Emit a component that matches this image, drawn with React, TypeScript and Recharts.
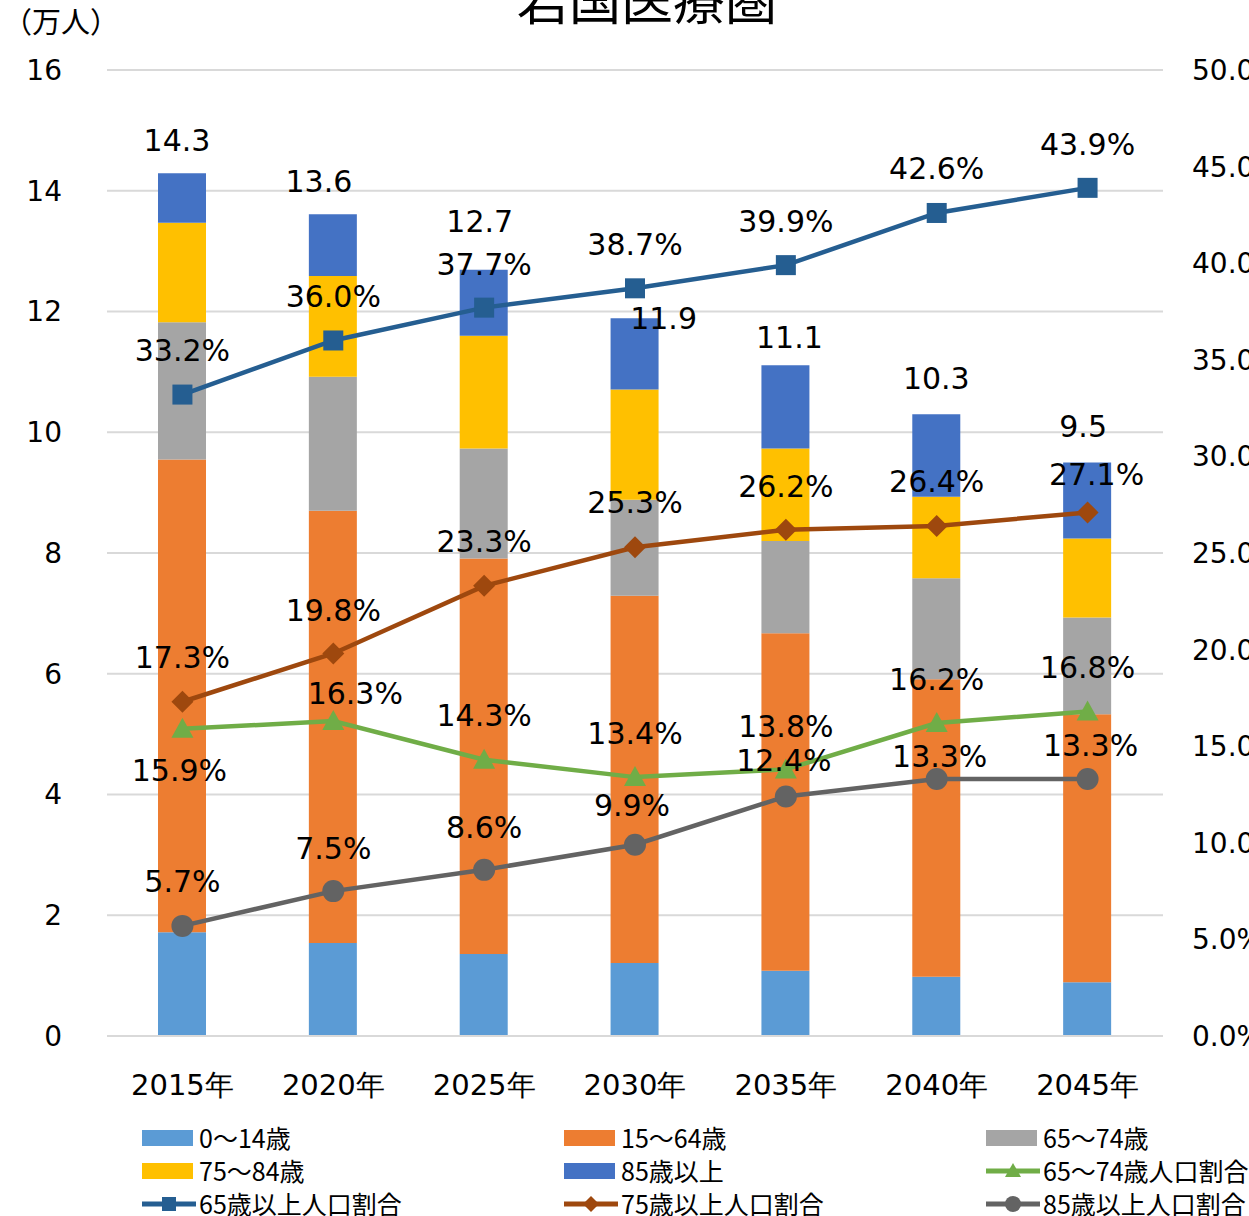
import React from 'react';
import { ComposedChart, Bar, Line, XAxis, YAxis, CartesianGrid, LabelList } from 'recharts';

const years = ['2015年', '2020年', '2025年', '2030年', '2035年', '2040年', '2045年'];
const age0to14 = [1.72, 1.54, 1.36, 1.21, 1.08, 0.98, 0.89];
const age15to64 = [7.83, 7.16, 6.55, 6.08, 5.59, 4.93, 4.44];
const age65to74 = [2.27, 2.22, 1.82, 1.59, 1.53, 1.67, 1.6];
const age75to84 = [1.65, 1.67, 1.87, 1.83, 1.53, 1.35, 1.31];
const age85plus = [0.82, 1.02, 1.09, 1.18, 1.38, 1.37, 1.26];
const totals = [14.3, 13.6, 12.7, 11.9, 11.1, 10.3, 9.5];
const ratio65to74 = [15.9, 16.3, 14.3, 13.4, 13.8, 16.2, 16.8];
const ratio65plus = [33.2, 36.0, 37.7, 38.7, 39.9, 42.6, 43.9];
const ratio75plus = [17.3, 19.8, 23.3, 25.3, 26.2, 26.4, 27.1];
const ratio85plus = [5.7, 7.5, 8.6, 9.9, 12.4, 13.3, 13.3];
const leftTicks = [0, 2, 4, 6, 8, 10, 12, 14, 16];
const rightTicks = [0, 5, 10, 15, 20, 25, 30, 35, 40, 45, 50];

const title = '岩国医療圏';
const unitLabel = '（万人）';

const legendBars = [
  { name: '0～14歳', color: '#5B9BD5' },
  { name: '15～64歳', color: '#ED7D31' },
  { name: '65～74歳', color: '#A5A5A5' },
  { name: '75～84歳', color: '#FFC000' },
  { name: '85歳以上', color: '#4472C4' },
];
const legendLines = [
  { name: '65～74歳人口割合', color: '#70AD47', shape: 'triangle' },
  { name: '65歳以上人口割合', color: '#255E91', shape: 'square' },
  { name: '75歳以上人口割合', color: '#9E480E', shape: 'diamond' },
  { name: '85歳以上人口割合', color: '#636363', shape: 'circle' },
];

const data = years.map((year, i) => ({
  year,
  a0: age0to14[i],
  a15: age15to64[i],
  a65: age65to74[i],
  a75: age75to84[i],
  a85: age85plus[i],
  total: totals[i],
  r6574: ratio65to74[i],
  r65: ratio65plus[i],
  r75: ratio75plus[i],
  r85: ratio85plus[i],
}));

// label offsets (style only)
const totalOffsets = [[-5, -33], [-14, -33], [-4, -49], [29, 0], [4, -28], [0, -36], [-4, -36]];
const off65 = [[0, -44], [0, -44], [0, -43], [0, -44], [0, -44], [0, -45], [0, -44]];
const off75 = [[0, -45], [0, -43], [0, -45], [0, -45], [0, -44], [0, -45], [9, -38]];
const off6574 = [[-3, 41], [22, -28], [0, -45], [0, -44], [0, -43], [0, -44], [0, -44]];
const off85 = [[0, -45], [0, -43], [0, -43], [-3, -40], [-2, -36], [3, -23], [3, -34]];

const FONT = '"DejaVu Sans", Verdana, sans-serif';
const CJK = '"Noto Sans CJK JP", sans-serif';

const makeLabel = (offsets: number[][], fmt: (v: number) => string, isBar = false) => (props: any) => {
  const { x, y, width, value, index } = props;
  if (x == null || y == null) return null;
  const cx = isBar ? x + width / 2 : x;
  const [dx, dy] = offsets[index] || [0, 0];
  return (
    <text x={cx + dx} y={y + dy} dy="0.36em" textAnchor="middle" fontSize={30} fontFamily={FONT} fill="#000">
      {fmt(Number(value))}
    </text>
  );
};

const pct = (v: number) => v.toFixed(1) + '%';

const Marker = ({ shape, cx, cy, color, s = 11 }: any) => {
  if (cx == null || cy == null) return null;
  if (shape === 'square') return <rect x={cx - s + 1} y={cy - s + 1} width={2 * s - 2} height={2 * s - 2} fill={color} />;
  if (shape === 'diamond')
    return <polygon points={`${cx},${cy - s} ${cx + s},${cy} ${cx},${cy + s} ${cx - s},${cy}`} fill={color} />;
  if (shape === 'triangle')
    return <polygon points={`${cx},${cy - s} ${cx + s},${cy + s - 2} ${cx - s},${cy + s - 2}`} fill={color} />;
  return <circle cx={cx} cy={cy} r={s} fill={color} />;
};

const dot = (shape: string, color: string) => (props: any) => (
  <Marker key={`${shape}-${props.index}`} shape={shape} cx={props.cx} cy={props.cy} color={color} />
);

const LegendItem = ({ item, isLine }: any) => (
  <div style={{ display: 'flex', alignItems: 'center', height: 33 }}>
    <svg width={56} height={22} style={{ display: 'block' }}>
      {isLine ? (
        <>
          <line x1={0} y1={11} x2={54} y2={11} stroke={item.color} strokeWidth={5} />
          <Marker shape={item.shape} cx={27} cy={11} color={item.color} s={8} />
        </>
      ) : (
        <rect x={0} y={3} width={51} height={16} fill={item.color} />
      )}
    </svg>
    <span style={{ fontFamily: CJK, fontSize: 25, color: '#000', marginLeft: 1, whiteSpace: 'nowrap', lineHeight: '33px' }}>
      {item.name}
    </span>
  </div>
);

export default function App() {
  const allLegend = [
    ...legendBars.map((b) => ({ item: b, isLine: false })),
    ...legendLines.map((l) => ({ item: l, isLine: true })),
  ];
  const colX = [142, 564, 986];
  return (
    <div style={{ position: 'absolute', left: 0, top: 0, width: 1249, height: 1216, overflow: 'hidden', background: '#fff' }}>
      <ComposedChart
        width={1249}
        height={1216}
        data={data}
        margin={{ top: 70, right: 0, bottom: 120, left: 0 }}
      >
        <CartesianGrid yAxisId="left" vertical={false} stroke="#D9D9D9" strokeWidth={2} />
        <XAxis
          dataKey="year"
          height={60}
          axisLine={{ stroke: '#D9D9D9', strokeWidth: 2 }}
          tickLine={false}
          tickSize={0}
          tickMargin={38}
          tick={{ fontSize: 29, fontFamily: FONT, fill: '#000' }}
          interval={0}
        />
        <YAxis
          yAxisId="left"
          width={107}
          domain={[0, 16]}
          ticks={leftTicks}
          axisLine={false}
          tickLine={false}
          tickSize={0}
          tickMargin={45}
          tick={{ fontSize: 28, fontFamily: FONT, fill: '#000' }}
        />
        <YAxis
          yAxisId="right"
          orientation="right"
          width={86}
          domain={[0, 50]}
          ticks={rightTicks}
          axisLine={false}
          tickLine={false}
          tickSize={0}
          tickMargin={29}
          tickFormatter={(v: number) => v.toFixed(1) + '%'}
          tick={{ fontSize: 28, fontFamily: FONT, fill: '#000', textAnchor: 'start' }}
        />
        <Bar yAxisId="left" dataKey="a0" stackId="s" fill="#5B9BD5" barSize={48} isAnimationActive={false} />
        <Bar yAxisId="left" dataKey="a15" stackId="s" fill="#ED7D31" barSize={48} isAnimationActive={false} />
        <Bar yAxisId="left" dataKey="a65" stackId="s" fill="#A5A5A5" barSize={48} isAnimationActive={false} />
        <Bar yAxisId="left" dataKey="a75" stackId="s" fill="#FFC000" barSize={48} isAnimationActive={false} />
        <Bar yAxisId="left" dataKey="a85" stackId="s" fill="#4472C4" barSize={48} isAnimationActive={false}>
          <LabelList dataKey="total" content={makeLabel(totalOffsets, (v) => v.toFixed(1), true)} />
        </Bar>
        <Line yAxisId="right" dataKey="r6574" stroke="#70AD47" strokeWidth={4.5} dot={dot('triangle', '#70AD47')} activeDot={false} isAnimationActive={false}>
          <LabelList dataKey="r6574" content={makeLabel(off6574, pct)} />
        </Line>
        <Line yAxisId="right" dataKey="r65" stroke="#255E91" strokeWidth={4.5} dot={dot('square', '#255E91')} activeDot={false} isAnimationActive={false}>
          <LabelList dataKey="r65" content={makeLabel(off65, pct)} />
        </Line>
        <Line yAxisId="right" dataKey="r75" stroke="#9E480E" strokeWidth={4.5} dot={dot('diamond', '#9E480E')} activeDot={false} isAnimationActive={false}>
          <LabelList dataKey="r75" content={makeLabel(off75, pct)} />
        </Line>
        <Line yAxisId="right" dataKey="r85" stroke="#636363" strokeWidth={4.5} dot={dot('circle', '#636363')} activeDot={false} isAnimationActive={false}>
          <LabelList dataKey="r85" content={makeLabel(off85, pct)} />
        </Line>
      </ComposedChart>
      <svg width={1249} height={60} style={{ position: 'absolute', left: 0, top: 0, pointerEvents: 'none' }}>
        <text x={647} y={20} textAnchor="middle" fontSize={52} fontFamily={CJK} fill="#000">{title}</text>
        <text x={3} y={33} fontSize={29} fontFamily={CJK} fill="#000">{unitLabel}</text>
      </svg>
      {allLegend.map((l, i) => (
        <div key={l.item.name} style={{ position: 'absolute', left: colX[i % 3], top: 1122 + Math.floor(i / 3) * 33 - 1 }}>
          <LegendItem item={l.item} isLine={l.isLine} />
        </div>
      ))}
    </div>
  );
}
